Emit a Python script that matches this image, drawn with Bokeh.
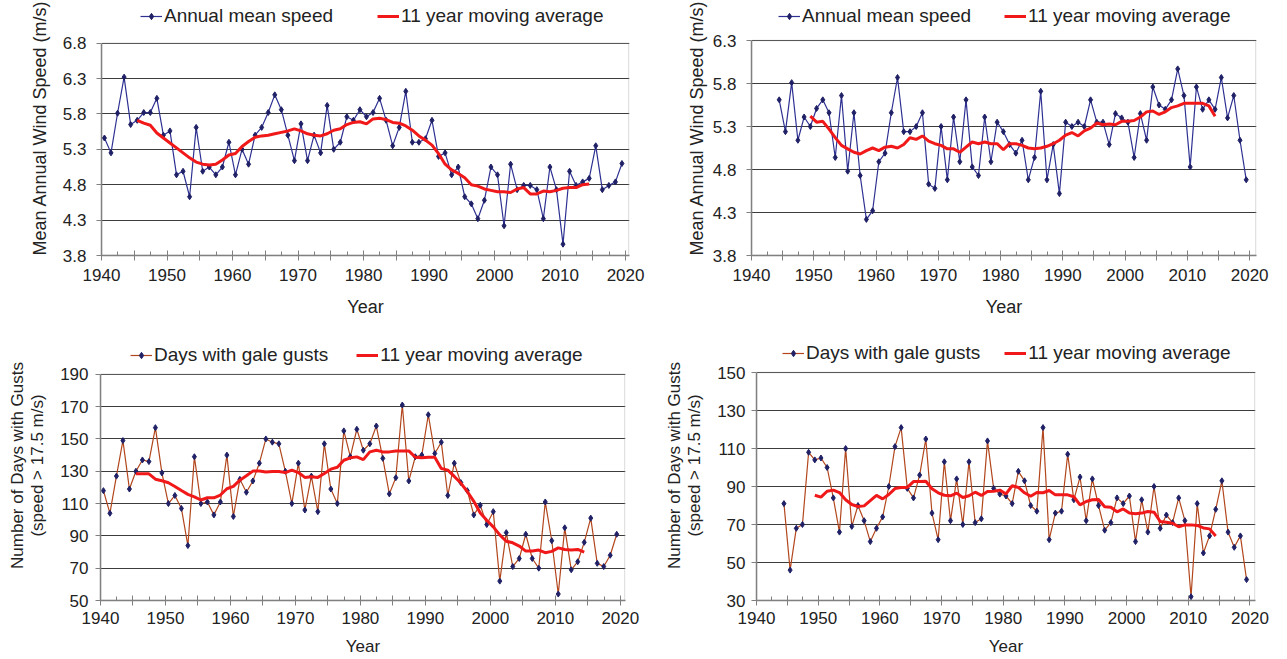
from bokeh.plotting import figure
from bokeh.models import (ColumnDataSource, FixedTicker, Legend, LegendItem,
                          Range1d, PrintfTickFormatter, BoxAnnotation)
from bokeh.layouts import column, row
from bokeh.transform import dodge
from bokeh.embed import file_html
from bokeh.resources import INLINE

# ---------------- data ----------------
years_a = list(range(1940, 2020))
speed_a = [5.46, 5.25, 5.81, 6.32, 5.65, 5.71, 5.82, 5.82, 6.02, 5.50,
           5.56, 4.94, 4.99, 4.63, 5.61, 4.99, 5.05, 4.94, 5.05, 5.40,
           4.94, 5.30, 5.09, 5.50, 5.61, 5.82, 6.07, 5.86, 5.50, 5.14,
           5.66, 5.14, 5.50, 5.25, 5.92, 5.30, 5.40, 5.76, 5.71, 5.86,
           5.76, 5.82, 6.02, 5.71, 5.35, 5.61, 6.12, 5.40, 5.40, 5.45,
           5.71, 5.20, 5.25, 4.94, 5.05, 4.63, 4.53, 4.32, 4.58, 5.05,
           4.94, 4.22, 5.09, 4.73, 4.79, 4.79, 4.73, 4.32, 5.05, 4.73,
           3.96, 4.99, 4.79, 4.84, 4.89, 5.35, 4.73, 4.79, 4.84, 5.10]
ma_years_a = list(range(1945, 2015))
speed_ma_a = [5.71, 5.67, 5.64, 5.53, 5.46, 5.39, 5.32, 5.25, 5.18, 5.12,
              5.09, 5.08, 5.09, 5.15, 5.22, 5.24, 5.34, 5.41, 5.47, 5.49,
              5.50, 5.52, 5.54, 5.56, 5.59, 5.56, 5.52, 5.50, 5.49, 5.52,
              5.57, 5.59, 5.65, 5.68, 5.69, 5.66, 5.73, 5.74, 5.72, 5.68,
              5.67, 5.63, 5.57, 5.49, 5.43, 5.36, 5.24, 5.09, 5.01, 4.96,
              4.90, 4.80, 4.78, 4.74, 4.72, 4.70, 4.70, 4.69, 4.74, 4.76,
              4.67, 4.67, 4.71, 4.70, 4.72, 4.75, 4.76, 4.76, 4.80, 4.81]

years_b = list(range(1944, 2020))
speed_b = [5.61, 5.24, 5.81, 5.14, 5.41, 5.30, 5.51, 5.61, 5.46, 4.94,
           5.66, 4.78, 5.46, 4.73, 4.22, 4.32, 4.89, 4.99, 5.46, 5.87,
           5.24, 5.24, 5.30, 5.46, 4.63, 4.58, 5.30, 4.68, 5.41, 4.89,
           5.61, 4.83, 4.73, 5.41, 4.89, 5.35, 5.24, 5.09, 4.99, 5.14,
           4.68, 4.94, 5.71, 4.68, 5.09, 4.52, 5.35, 5.30, 5.35, 5.30,
           5.61, 5.35, 5.35, 5.09, 5.45, 5.40, 5.35, 4.94, 5.45, 5.14,
           5.76, 5.55, 5.50, 5.61, 5.97, 5.66, 4.83, 5.76, 5.50, 5.61,
           5.50, 5.87, 5.40, 5.66, 5.14, 4.68]
ma_years_b = list(range(1949, 2015))
speed_ma_b = [5.42, 5.35, 5.36, 5.27, 5.17, 5.08, 5.04, 5.00, 4.98, 5.02,
              5.05, 5.02, 5.06, 5.07, 5.05, 5.09, 5.17, 5.15, 5.19, 5.13,
              5.10, 5.08, 5.04, 5.04, 5.00, 5.06, 5.12, 5.10, 5.12, 5.10,
              5.10, 5.03, 5.10, 5.10, 5.08, 5.05, 5.04, 5.05, 5.07, 5.10,
              5.14, 5.20, 5.23, 5.19, 5.25, 5.28, 5.34, 5.32, 5.33, 5.32,
              5.36, 5.36, 5.37, 5.41, 5.47, 5.48, 5.44, 5.47, 5.52, 5.54,
              5.57, 5.57, 5.57, 5.57, 5.54, 5.42]

gale_a = [118, 104, 127, 149, 119, 130, 137, 136, 157, 129,
          110, 115, 107, 84, 139, 110, 111, 103, 111, 140,
          102, 125, 117, 124, 135, 150, 148, 147, 130, 110,
          135, 106, 127, 105, 147, 119, 110, 155, 139, 156,
          143, 147, 158, 138, 116, 126, 171, 124, 139, 140,
          165, 141, 148, 115, 135, 123, 118, 103, 109, 97,
          105, 62, 92, 71, 76, 91, 76, 70, 111, 87,
          54, 95, 69, 74, 86, 101, 73, 71, 78, 91]
gale_ma_a = [128.4, 128.4, 128.4, 125.1, 124.1, 122.9, 120.6, 118.1, 115.7, 114.2,
             112.2, 113.6, 113.6, 115.3, 119.2, 120.6, 124.5, 127.2, 130.1, 130.1,
             129.6, 129.8, 129.8, 129.2, 130.7, 129.2, 126.2, 126.6, 126.2, 128.6,
             131.3, 132.5, 136.8, 138.3, 138.9, 137.2, 142.0, 143.0, 142.0, 142.0,
             142.6, 142.6, 142.6, 138.7, 138.3, 138.7, 138.7, 131.7, 130.7, 126.8,
             122.7, 117.5, 111.4, 104.2, 99.7, 95.6, 90.6, 86.7, 85.7, 83.7,
             80.6, 80.6, 81.2, 79.6, 80.4, 82.6, 81.6, 81.2, 81.6, 80.0]

gale_b = [81, 46, 68, 70, 108, 104, 105, 100, 84, 66,
          110, 69, 80, 72, 61, 68, 74, 90, 111, 121,
          89, 84, 96, 115, 76, 62, 103, 72, 94, 70,
          103, 71, 73, 114, 89, 86, 85, 81, 98, 93,
          80, 77, 121, 62, 76, 77, 107, 83, 95, 72,
          94, 80, 67, 71, 84, 81, 85, 61, 83, 66,
          90, 68, 75, 71, 84, 72, 32, 81, 55, 64,
          78, 93, 66, 58, 64, 41]
gale_ma_b = [85.4, 84.4, 87.5, 88.1, 86.8, 83.0, 80.5, 79.5, 79.8, 82.6,
             85.3, 83.5, 85.8, 88.9, 89.5, 89.5, 92.6, 92.6, 92.8, 88.8,
             86.7, 85.4, 85.1, 86.5, 84.2, 85.1, 87.0, 85.3, 87.4, 87.5,
             88.1, 86.1, 90.4, 89.5, 86.7, 84.9, 86.8, 86.7, 87.9, 85.6,
             85.6, 85.6, 84.6, 80.3, 82.1, 83.0, 83.2, 79.3, 79.1, 76.7,
             78.2, 76.0, 75.6, 76.0, 76.8, 76.5, 71.6, 71.2, 70.7, 68.8,
             69.8, 69.8, 69.5, 68.2, 67.7, 64.0]

year_labels = [1940, 1950, 1960, 1970, 1980, 1990, 2000, 2010, 2020]
year_unlabeled = [1945, 1955, 1965, 1975, 1985, 1995, 2005, 2015]
year_minor = [1942.5, 1947.5, 1952.5, 1957.5, 1962.5, 1967.5, 1972.5, 1977.5,
              1982.5, 1987.5, 1992.5, 1997.5, 2002.5, 2007.5, 2012.5, 2017.5]
ticks_speed_a = [3.8, 4.3, 4.8, 5.3, 5.8, 6.3, 6.8]
ticks_speed_b = [3.8, 4.3, 4.8, 5.3, 5.8, 6.3]
ticks_gale_a = [50, 70, 90, 110, 130, 150, 170, 190]
ticks_gale_b = [30, 50, 70, 90, 110, 130, 150]

FONT = "Liberation Sans"
NAVY = "#1f2066"
BLUE_LINE = "#2e3192"
BROWN = "#b2461c"
RED = "#f01818"
GRID = "#3c3c3c"
AXIS = "#808080"
BORDER = "#9a9a9a"


def panel(w, h, bl, br, bt, bb, xend, yticks, yfmt, ylabel,
          yrs, vals, ma_yrs, ma_vals, series_label, line_color,
          leg_x, leg_top, leg_spacing,
          tick_fs, title_fs, leg_fs, ytick_std, ytitle_std, xtick_std, xtitle_std,
          title_lh=1.2):
    # The frame reaches the top of the figure so the legend can sit in it;
    # the data area (between the first and last y tick) starts `bt` px below.
    y0, y1 = yticks[0], yticks[-1]
    frame_h = h - bb
    data_h = frame_h - bt
    y_end = y1 + bt * (y1 - y0) / data_h
    p = figure(width=w, height=h, output_backend="svg", toolbar_location=None,
               x_range=Range1d(1940, xend), y_range=Range1d(y0, y_end),
               min_border_left=bl, min_border_right=br,
               min_border_top=0, min_border_bottom=bb)
    p.background_fill_color = "white"
    p.border_fill_color = "white"
    p.outline_line_color = None
    p.add_layout(BoxAnnotation(left=1940, right=xend - 0.12, bottom=y0, top=y1,
                               fill_alpha=0, line_color=BORDER, line_width=1.5,
                               level="underlay"))

    src = ColumnDataSource(dict(year=yrs, v=vals))
    msrc = ColumnDataSource(dict(year=ma_yrs, v=ma_vals))
    xs = dodge("year", 0.45, range=p.x_range)
    r_line = p.line(x=xs, y="v", source=src, line_color=line_color, line_width=1.2)
    r_pts = p.scatter(x=xs, y="v", source=src, marker="diamond", size=6,
                      fill_color=NAVY, line_color=NAVY)
    r_ma = p.line(x=xs, y="v", source=msrc, line_color=RED, line_width=3)

    p.xgrid.visible = False
    p.ygrid.grid_line_color = GRID
    p.ygrid.grid_line_width = 1

    ya = p.yaxis[0]
    ya.ticker = FixedTicker(ticks=yticks, minor_ticks=[])
    ya.bounds = (y0, y1)
    if yfmt:
        ya.formatter = PrintfTickFormatter(format=yfmt)
    ya.axis_line_color = AXIS
    ya.axis_line_width = 1.5
    ya.major_tick_line_color = AXIS
    ya.major_tick_out = 5
    ya.major_tick_in = 0
    ya.minor_tick_line_color = None
    ya.major_label_text_font = FONT
    ya.major_label_text_font_size = tick_fs
    ya.major_label_text_color = "#222222"
    ya.major_label_standoff = ytick_std
    ya.axis_label = ylabel
    ya.axis_label_text_font = FONT
    ya.axis_label_text_font_size = title_fs
    ya.axis_label_text_font_style = "normal"
    ya.axis_label_text_color = "#222222"
    ya.axis_label_standoff = ytitle_std
    ya.axis_label_text_line_height = title_lh

    xa = p.xaxis[0]
    xa.ticker = FixedTicker(ticks=sorted(year_labels + year_unlabeled),
                            minor_ticks=year_minor)
    xa.major_label_overrides = {y: "" for y in year_unlabeled}
    xa.axis_line_color = AXIS
    xa.axis_line_width = 1.5
    xa.major_tick_line_color = AXIS
    xa.minor_tick_line_color = AXIS
    xa.major_tick_in = 5
    xa.major_tick_out = 5
    xa.minor_tick_in = 4
    xa.minor_tick_out = 0
    xa.major_label_text_font = FONT
    xa.major_label_text_font_size = tick_fs
    xa.major_label_text_color = "#222222"
    xa.major_label_standoff = xtick_std
    xa.axis_label = "Year"
    xa.axis_label_text_font = FONT
    xa.axis_label_text_font_size = title_fs
    xa.axis_label_text_font_style = "normal"
    xa.axis_label_text_color = "#222222"
    xa.axis_label_standoff = xtitle_std

    legend_h = 22
    legend = Legend(items=[LegendItem(label=series_label, renderers=[r_line, r_pts]),
                           LegendItem(label="11 year moving average", renderers=[r_ma])],
                    location=(leg_x, frame_h - leg_top - legend_h), orientation="horizontal",
                    padding=0, margin=0, spacing=leg_spacing,
                    glyph_width=22, glyph_height=16, label_standoff=2,
                    label_height=legend_h,
                    label_text_font=FONT, label_text_font_size=leg_fs,
                    label_text_color="#222222",
                    background_fill_alpha=0, border_line_alpha=0)
    p.add_layout(legend, "center")
    return p


p1 = panel(645, 330, 101, 16, 43, 73, 2020.6, ticks_speed_a, "%.1f",
           "Mean Annual Wind Speed (m/s)", years_a, speed_a, ma_years_a, speed_ma_a,
           "Annual mean speed", BLUE_LINE, 39, 7, 44,
           "17px", "18px", "19px", 10, 10, 8, 13)
p2 = panel(642, 330, 106, 31, 40, 75, 2021.1, ticks_speed_b, "%.1f",
           "Mean Annual Wind Speed (m/s)", years_b, speed_b, ma_years_b, speed_ma_b,
           "Annual mean speed", BLUE_LINE, 27, 5, 33,
           "17px", "18px", "19px", 10, 3, 8, 13)
p3 = panel(645, 329, 100, 20, 44, 58, 2020.8, ticks_gale_a, None,
           "Number of Days with Gusts\n(speed > 17.5 m/s)", years_a, gale_a, ma_years_a, gale_ma_a,
           "Days with gale gusts", BROWN, 30, 15, 28,
           "17px", "17px", "19px", 7, 10, 6, 10, 1.05)
p4 = panel(642, 329, 111, 32, 42, 59, 2020.9, ticks_gale_b, None,
           "Number of Days with Gusts\n(speed > 17.5 m/s)", years_b, gale_b, ma_years_b, gale_ma_b,
           "Days with gale gusts", BROWN, 26, 12, 24,
           "17px", "17px", "19px", 6, 10, 6, 10, 1.05)

layout = column(row(p1, p2), row(p3, p4))
open("out.html", "w").write(file_html(layout, INLINE))
